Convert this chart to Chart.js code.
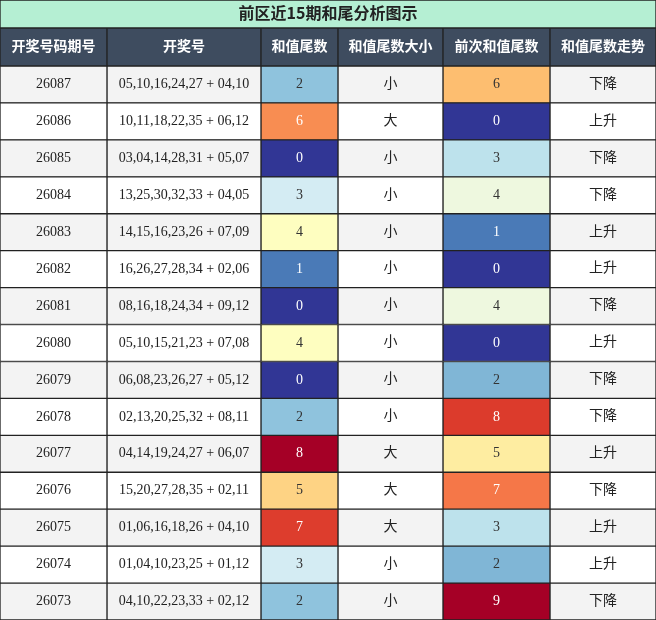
<!DOCTYPE html>
<html><head><meta charset="utf-8">
<script src="https://cdn.jsdelivr.net/npm/chart.js@4"></script>
<style>body{margin:0;background:#fff}canvas{display:block}</style>
</head><body>
<canvas id="c" width="656" height="620"></canvas>
<script>
const title = "前区近15期和尾分析图示";
const headers = ["开奖号码期号", "开奖号", "和值尾数", "和值尾数大小", "前次和值尾数", "和值尾数走势"];
const issues = ["26087","26086","26085","26084","26083","26082","26081","26080","26079","26078","26077","26076","26075","26074","26073"];
const draws = ["05,10,16,24,27 + 04,10","10,11,18,22,35 + 06,12","03,04,14,28,31 + 05,07","13,25,30,32,33 + 04,05","14,15,16,23,26 + 07,09","16,26,27,28,34 + 02,06","08,16,18,24,34 + 09,12","05,10,15,21,23 + 07,08","06,08,23,26,27 + 05,12","02,13,20,25,32 + 08,11","04,14,19,24,27 + 06,07","15,20,27,28,35 + 02,11","01,06,16,18,26 + 04,10","01,04,10,23,25 + 01,12","04,10,22,23,33 + 02,12"];
const tails = [2,6,0,3,4,1,0,4,0,2,8,5,7,3,2];
const sizes = ["小","大","小","小","小","小","小","小","小","小","大","大","大","小","小"];
const prevTails = [6,0,3,4,1,0,4,0,2,8,5,7,3,2,9];
const trends = ["下降","上升","下降","下降","上升","上升","下降","上升","下降","下降","上升","下降","上升","上升","下降"];

const colEdges = [0,107,261,338,443,550,656];
const tailColors = ["#313695","#4a7ab7","#8fc3dd","#d4ecf3","#fefec0","#fed384","#f88d52","#dd3d2d","#a50026"];
const prevColors = ["#313695","#4a7ab7","#80b6d6","#bde2ec","#eef8df","#feeda1","#fdbe70","#f57748","#dc3b2c","#a50026"];
const tailWhite = [0,1,6,7,8];
const prevWhite = [0,1,7,8,9];

const titleH = 28, headH = 38, rowH = (620 - titleH - headH) / 15;
const rowY = i => titleH + headH + rowH * (i + 0.5);
const rowBg = i => i % 2 === 0 ? "#f3f3f3" : "#ffffff";

const datasets = [];
datasets.push({ data: [{x:[0,656], y:titleH/2}], backgroundColor:"#b5efd3", barThickness:titleH,
  texts:[title], textColors:["#222"], font:"bold 16px 'Noto Sans CJK SC'", dy:-1 });
datasets.push({ data: headers.map((h,j)=>({x:[colEdges[j],colEdges[j+1]], y:titleH+headH/2})),
  backgroundColor:"#3e4c5f", barThickness:headH, texts:headers, textColors:headers.map(()=>"#fff"),
  font:"bold 14px 'Noto Sans CJK SC'", dy:-1 });
const cols = [
  {t: issues, bg: i=>rowBg(i), fc: ()=>"#222", font:"14px 'Liberation Serif'", dy:0},
  {t: draws, bg: i=>rowBg(i), fc: ()=>"#222", font:"14px 'Liberation Serif'", dy:0},
  {t: tails, bg: i=>tailColors[tails[i]], fc: i=>tailWhite.includes(tails[i])?"#fff":"#333", font:"14px 'Liberation Serif'", dy:0},
  {t: sizes, bg: i=>rowBg(i), fc: ()=>"#222", font:"14px 'Noto Sans CJK SC'", dy:-2},
  {t: prevTails, bg: i=>prevColors[prevTails[i]], fc: i=>prevWhite.includes(prevTails[i])?"#fff":"#333", font:"14px 'Liberation Serif'", dy:0},
  {t: trends, bg: i=>rowBg(i), fc: ()=>"#222", font:"14px 'Noto Sans CJK SC'", dy:-2}
];
cols.forEach((c,j)=>{
  datasets.push({ data: issues.map((_,i)=>({x:[colEdges[j],colEdges[j+1]], y:rowY(i)})),
    backgroundColor: issues.map((_,i)=>c.bg(i)), barThickness: rowH,
    texts: c.t.map(String), textColors: issues.map((_,i)=>c.fc(i)), font:c.font, dy:c.dy });
});
datasets.forEach(d=>{ d.borderColor="#222"; d.borderWidth=1; d.borderSkipped=false; d.grouped=false; });

const cellText = {
  id:"cellText",
  afterDatasetsDraw(chart){
    const ctx = chart.ctx;
    ctx.save();
    ctx.textAlign="center"; ctx.textBaseline="middle";
    chart.data.datasets.forEach((ds,k)=>{
      chart.getDatasetMeta(k).data.forEach((el,i)=>{
        ctx.font = ds.font; ctx.fillStyle = ds.textColors[i];
        ctx.fillText(ds.texts[i], (el.x+el.base)/2, el.y+ds.dy);
      });
    });
    ctx.restore();
  }
};

new Chart(document.getElementById("c"), {
  type:"bar",
  data:{ datasets },
  options:{
    responsive:false, animation:false, indexAxis:"y",
    layout:{ padding:0 },
    plugins:{ legend:{display:false}, tooltip:{enabled:false} },
    scales:{
      x:{ type:"linear", min:0, max:656, display:false, offset:false },
      y:{ type:"linear", min:0, max:620, reverse:true, display:false, offset:false }
    }
  },
  plugins:[cellText]
});
</script>
</body></html>
